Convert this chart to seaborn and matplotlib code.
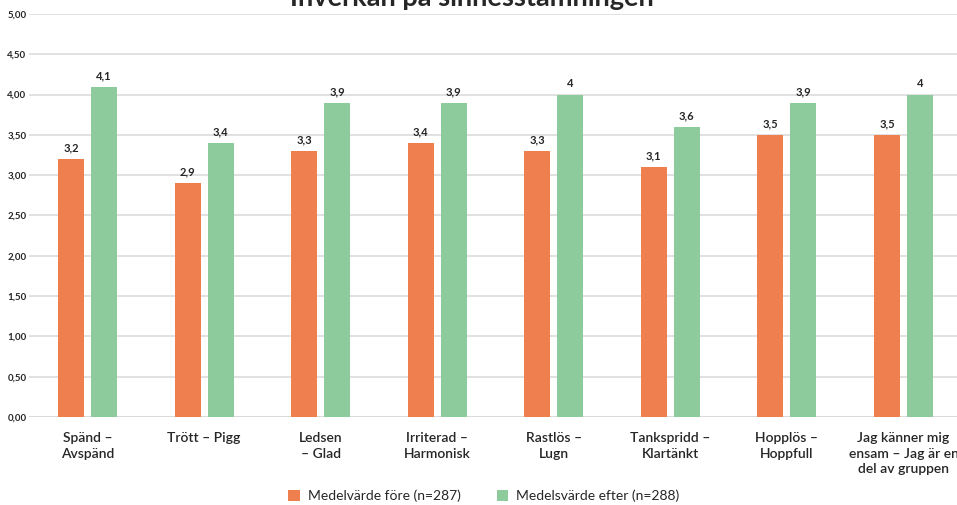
import pandas as pd
import matplotlib
matplotlib.use("Agg")
import matplotlib.pyplot as plt
import seaborn as sns

# Data
categories = ["Spänd –\nAvspänd", "Trött – Pigg", "Ledsen\n– Glad", "Irriterad –\nHarmonisk",
              "Rastlös –\nLugn", "Tankspridd –\nKlartänkt", "Hopplös –\nHoppfull",
              "Jag känner mig\nensam – Jag är en\ndel av gruppen"]
fore = [3.2, 2.9, 3.3, 3.4, 3.3, 3.1, 3.5, 3.5]
efter = [4.1, 3.4, 3.9, 3.9, 4.0, 3.6, 3.9, 4.0]
series = ["Medelvärde före (n=287)", "Medelsvärde efter (n=288)"]
yticks = [0, 0.5, 1, 1.5, 2, 2.5, 3, 3.5, 4, 4.5, 5]

df = pd.DataFrame({
    "Kategori": categories * 2,
    "Serie": [series[0]] * len(fore) + [series[1]] * len(efter),
    "Värde": fore + efter,
})

sns.set_style("white")
plt.rcParams["font.family"] = ["Lato", "DejaVu Sans"]

fig = plt.figure(figsize=(9.57, 5.05), dpi=100)
ax = fig.add_axes([29.2 / 957, 88 / 505, 932.6 / 957, 403 / 505])

sns.barplot(data=df, x="Kategori", y="Värde", hue="Serie",
            palette=["#F07F50", "#8DCA9C"], saturation=1, width=0.566, gap=0.21,
            edgecolor="none", ax=ax, legend=True)

ax.set_ylim(0, 5)
ax.set_xlim(-0.5, len(categories) - 0.5)
ax.set_yticks(yticks)
ax.set_yticklabels([f"{t:.2f}".replace(".", ",") for t in yticks],
                   fontsize=7, fontweight="bold")
ax.tick_params(axis="both", length=0)
ax.tick_params(axis="y", pad=2)
ax.tick_params(axis="x", pad=11)
for lbl in ax.get_xticklabels():
    lbl.set_fontsize(10)
    lbl.set_fontweight("semibold")
    lbl.set_linespacing(1.35)
    lbl.set_va("top")
ax.set_xlabel("")
ax.set_ylabel("")
ax.grid(axis="y", color="#DCDCDC", linewidth=1.2)
ax.set_axisbelow(True)
sns.despine(ax=ax, left=True, bottom=True)
ax.axhline(0, color="#D0D0D0", linewidth=2, zorder=0)

for cont in ax.containers:
    vals = [b.get_height() for b in cont]
    ax.bar_label(cont, labels=[f"{v:g}".replace(".", ",") for v in vals],
                 padding=4, fontsize=8, fontweight="bold")

fig.text(472 / 957, 1 - 6 / 505, "Inverkan på sinnesstämningen",
         ha="center", va="baseline", fontsize=19.5, fontweight="bold")

handles, labels = ax.get_legend_handles_labels()
ax.get_legend().remove()
fig.legend(handles, labels, loc="center", bbox_to_anchor=(484 / 957, 9 / 505),
           ncol=2, frameon=False, fontsize=10, handlelength=0.8, handleheight=0.8,
           handletextpad=0.6, columnspacing=2.6)

fig.savefig("out.png", dpi=100)
